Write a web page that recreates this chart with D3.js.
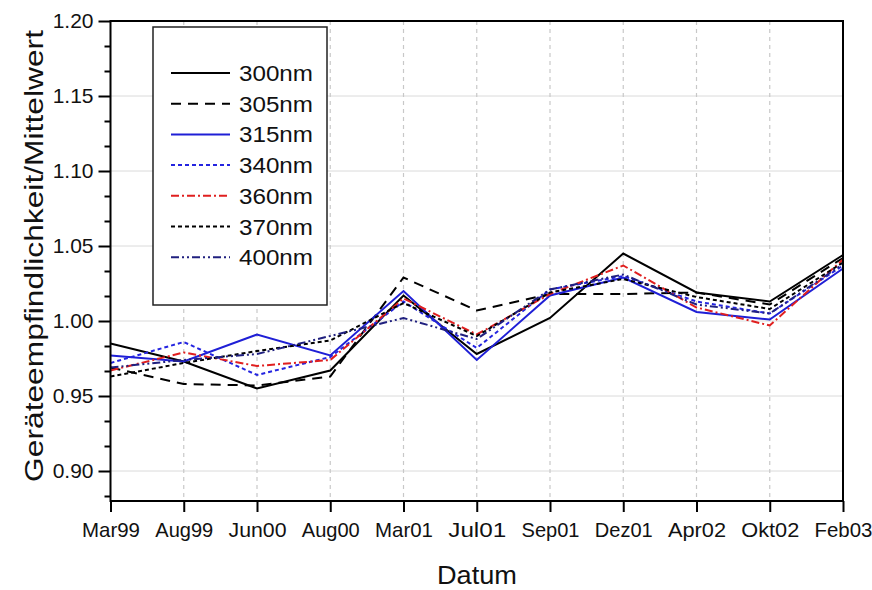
<!DOCTYPE html>
<html lang="de">
<head>
  <meta charset="utf-8">
  <title>Geräteempfindlichkeit</title>
  <script src="https://d3js.org/d3.v7.min.js"></script>
  <style>
    body { margin: 0; background: #fff; }
    svg { font-family: "Liberation Sans", Arial, sans-serif; }
  </style>
</head>
<body>
<svg id="chart" width="872" height="590"></svg>
<script>
// categories (Datum)
var dates = ["Mar99", "Aug99", "Jun00", "Aug00", "Mar01", "Jul01", "Sep01", "Dez01", "Apr02", "Okt02", "Feb03"];

// series values
var nm300 = [0.985, 0.973, 0.955, 0.967, 1.017, 0.978, 1.002, 1.045, 1.019, 1.013, 1.044];
var nm305 = [0.969, 0.958, 0.957, 0.963, 1.029, 1.007, 1.018, 1.018, 1.019, 1.011, 1.042];
var nm315 = [0.977, 0.973, 0.991, 0.977, 1.020, 0.974, 1.017, 1.029, 1.006, 1.001, 1.035];
var nm340 = [0.972, 0.986, 0.964, 0.976, 1.013, 0.982, 1.021, 1.030, 1.013, 1.005, 1.037];
var nm360 = [0.967, 0.979, 0.970, 0.974, 1.015, 0.991, 1.018, 1.037, 1.009, 0.997, 1.041];
var nm370 = [0.963, 0.972, 0.980, 0.987, 1.012, 0.990, 1.019, 1.028, 1.016, 1.008, 1.039];
var nm400 = [0.969, 0.974, 0.978, 0.990, 1.002, 0.988, 1.021, 1.031, 1.011, 1.005, 1.038];

var names = ["300nm", "305nm", "315nm", "340nm", "360nm", "370nm", "400nm"];
var yTicks = [0.90, 0.95, 1.00, 1.05, 1.10, 1.15, 1.20];

// style per series
var styles = [
  {color: "#000000", dash: null},
  {color: "#000000", dash: "10,7"},
  {color: "#1f1fd6", dash: null},
  {color: "#2424e0", dash: "4,3"},
  {color: "#e01f1f", dash: "8,3,2,3"},
  {color: "#000000", dash: "4,3"},
  {color: "#20207f", dash: "8,3,2,3,2,3"}
];

var series = [nm300, nm305, nm315, nm340, nm360, nm370, nm400].map(function(v, i) {
  return {name: names[i], values: v, style: styles[i]};
});

var svg = d3.select("#chart");
var pLeft = 110.5, pRight = 843, pTop = 21, pBottom = 501;
var font = "Liberation Sans, Arial, sans-serif";

var x = d3.scalePoint().domain(dates).range([pLeft, pRight]);
var y = d3.scaleLinear().domain([0.88, 1.20]).range([pBottom, pTop]);

// grid
svg.append("g").selectAll("line")
  .data(yTicks.filter(d => d < 1.2))
  .enter().append("line")
    .attr("x1", pLeft).attr("x2", pRight)
    .attr("y1", d => y(d)).attr("y2", d => y(d))
    .attr("stroke", "#dadada").attr("stroke-width", 1);

svg.append("g").selectAll("line")
  .data(dates.slice(1, -1))
  .enter().append("line")
    .attr("x1", d => x(d)).attr("x2", d => x(d))
    .attr("y1", pTop).attr("y2", pBottom)
    .attr("stroke", "#c8c8c8").attr("stroke-width", 1.2)
    .attr("stroke-dasharray", "4,4");

// minor y ticks (two between majors)
var minor = d3.range(0.90 - 0.05 / 3, 1.2, 0.05 / 3).filter(function(v) {
  return yTicks.every(t => Math.abs(t - v) > 0.002);
});

svg.append("g")
  .attr("transform", "translate(" + pLeft + ",0)")
  .call(d3.axisLeft(y).tickValues(minor).tickSize(6).tickFormat(""))
  .call(g => g.select(".domain").remove())
  .selectAll("line").attr("stroke", "#000").attr("stroke-width", 2);

// y axis
var yAxis = svg.append("g")
  .attr("transform", "translate(" + pLeft + ",0)")
  .call(d3.axisLeft(y).tickValues(yTicks).tickSize(12).tickPadding(5).tickFormat(d3.format(".2f")));
yAxis.select(".domain").remove();
yAxis.selectAll("line").attr("stroke", "#000").attr("stroke-width", 2);
yAxis.selectAll("text").attr("font-size", 21).attr("font-family", font).attr("fill", "#111");

// x axis
var xAxis = svg.append("g")
  .attr("transform", "translate(0," + pBottom + ")")
  .call(d3.axisBottom(x).tickSize(11).tickPadding(10));
xAxis.select(".domain").remove();
xAxis.selectAll("line").attr("stroke", "#000").attr("stroke-width", 2);
xAxis.selectAll("text").attr("font-size", 21).attr("font-family", font).attr("fill", "#111")
  .attr("textLength", 58).attr("lengthAdjust", "spacingAndGlyphs");

// lines
var line = d3.line()
  .x((d, i) => x(dates[i]))
  .y(d => y(d));

svg.append("g").selectAll("path")
  .data(series)
  .enter().append("path")
    .attr("d", d => line(d.values))
    .attr("fill", "none")
    .attr("stroke", d => d.style.color)
    .attr("stroke-width", 2)
    .attr("stroke-dasharray", d => d.style.dash);

// frame
svg.append("rect")
  .attr("x", pLeft).attr("y", pTop)
  .attr("width", pRight - pLeft).attr("height", pBottom - pTop)
  .attr("fill", "none").attr("stroke", "#000").attr("stroke-width", 2);

// legend
var legend = svg.append("g");
legend.append("rect")
  .attr("x", 153).attr("y", 27).attr("width", 174).attr("height", 278)
  .attr("fill", "#fff").attr("stroke", "#222").attr("stroke-width", 1.5);

var item = legend.selectAll(".item")
  .data(series)
  .enter().append("g")
    .attr("class", "item")
    .attr("transform", (d, i) => "translate(0," + (73 + i * 30.7) + ")");

item.append("line")
  .attr("x1", 171).attr("x2", 230)
  .attr("stroke", d => d.style.color)
  .attr("stroke-width", 2)
  .attr("stroke-dasharray", d => d.style.dash);

item.append("text")
  .attr("x", 239).attr("y", 8)
  .attr("font-size", 22)
  .attr("textLength", 74).attr("lengthAdjust", "spacingAndGlyphs")
  .attr("fill", "#111")
  .text(d => d.name);

// axis titles
svg.append("text")
  .attr("x", 477).attr("y", 584)
  .attr("text-anchor", "middle")
  .attr("font-size", 26)
  .attr("textLength", 80).attr("lengthAdjust", "spacingAndGlyphs")
  .attr("fill", "#111")
  .text("Datum");

svg.append("text")
  .attr("transform", "translate(43,256) rotate(-90)")
  .attr("text-anchor", "middle")
  .attr("font-size", 26)
  .attr("textLength", 452).attr("lengthAdjust", "spacingAndGlyphs")
  .attr("fill", "#111")
  .text("Geräteempfindlichkeit/Mittelwert");
</script>
</body>
</html>
